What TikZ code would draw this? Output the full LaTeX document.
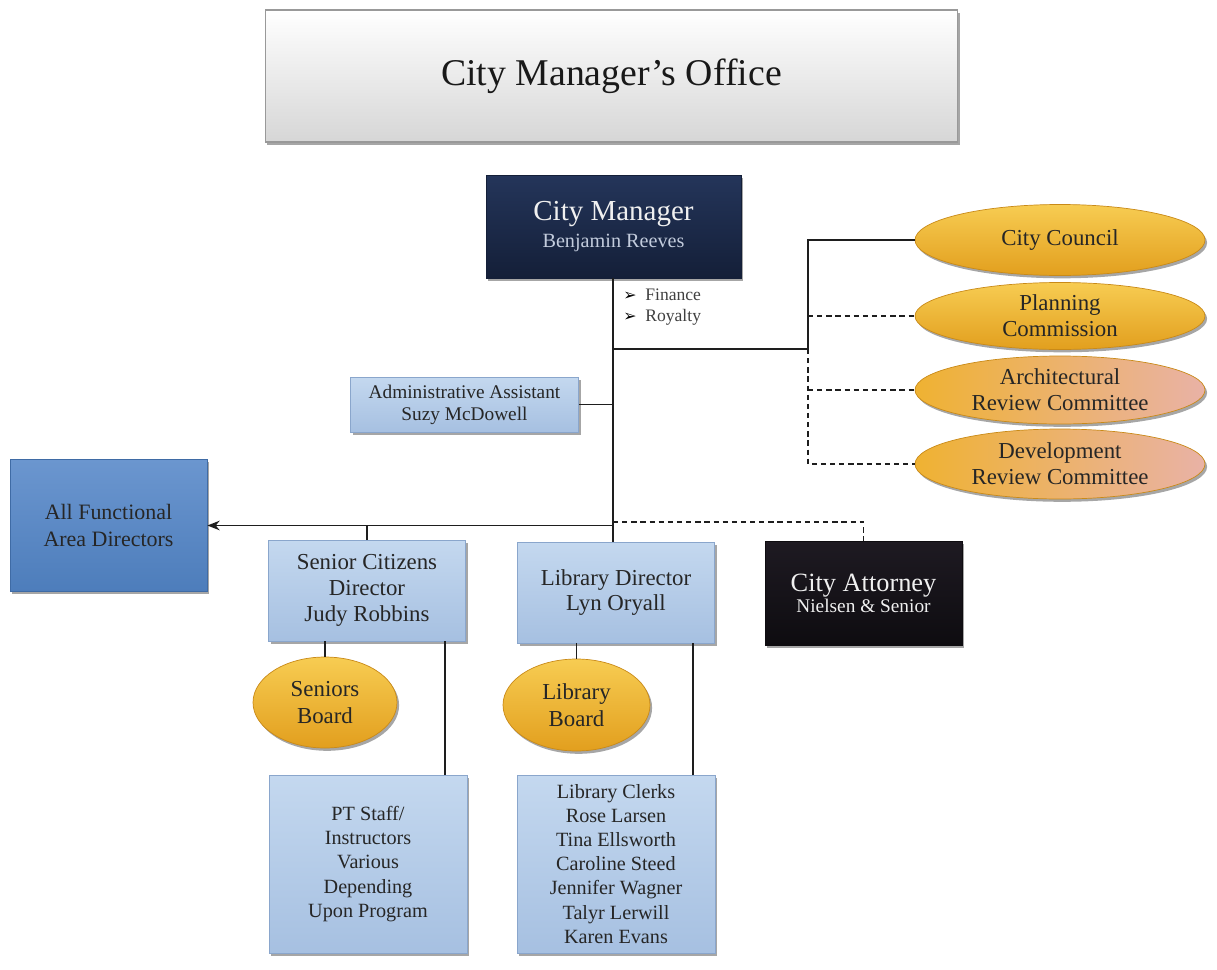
\documentclass[tikz,border=0pt]{standalone}
\usepackage{fontspec}
\setmainfont{Liberation Serif}
\newfontfamily\dejavu{DejaVu Sans}
\usetikzlibrary{shapes.geometric,shadows,arrows.meta}
\definecolor{navytop}{HTML}{24355A}
\definecolor{navybot}{HTML}{141F38}
\definecolor{blacktop}{HTML}{1E1A22}
\definecolor{blackbot}{HTML}{0E0C10}
\definecolor{lbtop}{HTML}{C4D8EF}
\definecolor{lbbot}{HTML}{A6C0E1}
\definecolor{lbdraw}{HTML}{8AA6CC}
\definecolor{mbtop}{HTML}{6B96CF}
\definecolor{mbbot}{HTML}{4D7DBB}
\definecolor{mbdraw}{HTML}{3F6BA5}
\definecolor{ortop}{HTML}{F7CC52}
\definecolor{orbot}{HTML}{E29F1E}
\definecolor{orleft}{HTML}{EFB232}
\definecolor{ordraw}{HTML}{C98A18}
\definecolor{orpink}{HTML}{E9B2A6}
\definecolor{txt}{HTML}{262626}
\definecolor{linec}{HTML}{1E1E1E}
\definecolor{cmsub}{HTML}{C3CCDD}
\tikzset{
  conn/.style={line width=0.8pt, draw=linec},
  dconn/.style={conn, dash pattern=on 3pt off 2.2pt},
  shad/.style={drop shadow={shadow xshift=1.2pt, shadow yshift=-1.6pt, opacity=0.35, fill=black}},
  basebox/.style={rectangle, shad, align=center, inner sep=2pt},
  lbox/.style={basebox, top color=lbtop, bottom color=lbbot, draw=lbdraw, line width=0.5pt, text=txt},
  oval/.style={ellipse, shad, top color=ortop, bottom color=orbot, draw=ordraw, line width=0.4pt, text=txt, align=center, inner sep=0pt},
  ovalpink/.style={ellipse, shad, left color=orleft, right color=orpink, draw=ordraw, line width=0.4pt, text=txt, align=center, inner sep=0pt},
  f13/.style={font=\fontsize{13}{14.7}\selectfont},
  f115/.style={font=\fontsize{11.5}{13.7}\selectfont},
}
\begin{document}
\begin{tikzpicture}[x=0.02cm,y=-0.02cm]
\useasboundingbox[fill=white] (0,0) rectangle (1217,970);

% title
\node[basebox, top color=white, bottom color=black!16, middle color=white!92!black, draw=black!40, line width=0.6pt,
      minimum width=13.86cm, minimum height=2.64cm, text=black!90,
      font=\fontsize{21.5}{24}\selectfont] (title) at (611.5,76) {City Manager’s Office};

% city manager
\node[basebox, top color=navytop, bottom color=navybot, draw=navybot, minimum width=5.1cm, minimum height=2.06cm, text=white!94!black]
  (cm) at (613.5,226.5) {{\fontsize{16.5}{19}\selectfont City Manager}\\[3pt]{\fontsize{11.5}{14}\selectfont\color{cmsub}Benjamin Reeves}};

\node[anchor=west, align=left, text=black!75, font=\fontsize{10}{12}\selectfont, inner sep=0pt]
  (bul) at (623,307.5) {{\dejavu\color{black}\fontsize{9}{12}\selectfont ➢}\hspace{5pt}Finance\\{\dejavu\color{black}\fontsize{9}{12}\selectfont ➢}\hspace{5pt}Royalty};

% right ovals
\node[oval, f13, minimum width=5.8cm, minimum height=1.42cm] (cc) at (1060,240) {City Council};
\node[oval, f13, minimum width=5.8cm, minimum height=1.34cm] (pc) at (1060,316) {Planning\\Commission};
\node[ovalpink, f13, minimum width=5.8cm, minimum height=1.36cm] (ar) at (1060,390) {Architectural\\Review Committee};
\node[ovalpink, f13, minimum width=5.8cm, minimum height=1.4cm] (dc) at (1060,464) {Development\\Review Committee};

% admin assistant
\node[lbox, minimum width=4.56cm, minimum height=1.1cm, font=\fontsize{11}{12.5}\selectfont] (aa) at (464.5,404.5)
  {Administrative Assistant\\Suzy McDowell};

% all functional area directors
\node[basebox, top color=mbtop, bottom color=mbbot, draw=mbdraw, line width=0.5pt, text=txt,
      minimum width=3.94cm, minimum height=2.64cm, font=\fontsize{12.5}{15.8}\selectfont] (afad) at (108.5,525.5)
  {All Functional\\Area Directors};

% directors
\node[lbox, f13, minimum width=3.94cm, minimum height=2.02cm] (sc) at (367,590.5)
  {Senior Citizens\\Director\\Judy Robbins};
\node[lbox, f13, minimum width=3.94cm, minimum height=2.02cm] (ld) at (616,592.5)
  {Library Director\\Lyn Oryall};
\node[basebox, top color=blacktop, bottom color=blackbot, draw=blackbot, text=white!94!black,
      minimum width=3.94cm, minimum height=2.08cm] (ca) at (863.5,593)
  {{\fontsize{15}{17}\selectfont City Attorney}\\{\fontsize{11}{13}\selectfont Nielsen \& Senior}};

% boards
\node[oval, minimum width=2.88cm, minimum height=1.82cm, font=\fontsize{13}{15.5}\selectfont] (sb) at (325,702.5) {Seniors\\Board};
\node[oval, minimum width=2.94cm, minimum height=1.84cm, font=\fontsize{13}{15.5}\selectfont] (lb) at (576.5,705) {Library\\Board};

% staff
\node[lbox, f115, minimum width=3.96cm, minimum height=3.56cm] (pt) at (368,864)
  {PT Staff/\\Instructors\\Various\\Depending\\Upon Program};
\node[lbox, f115, minimum width=3.96cm, minimum height=3.56cm] (lc) at (616,864)
  {Library Clerks\\Rose Larsen\\Tina Ellsworth\\Caroline Steed\\Jennifer Wagner\\Talyr Lerwill\\Karen Evans};

% junctions
\coordinate (jh) at (613,349);
\coordinate (jr) at (808,349);
\coordinate (jm) at (613,525.5);
\coordinate (jd) at (613,522);
\coordinate (xs) at (445,0);
\coordinate (xl) at (693,0);

% connectors
\draw[conn] (jh |- cm.south) -- (jh |- ld.north);
\draw[conn] (jh) -- (jr) |- (cc.west);
\draw[dconn] (jr) -- (jr |- dc.west) -- (dc.west);
\draw[dconn] (jr |- pc.west) -- (pc.west);
\draw[dconn] (jr |- ar.west) -- (ar.west);
\draw[conn] (aa.east) -- (aa.east -| jh);
\draw[conn, -{Stealth[length=7pt,width=5.5pt]}] (jm) -- (afad.east);
\draw[conn] (sc.north |- jm) -- (sc.north);
\draw[dconn] (jd) -| (ca.north);
\draw[conn] (sb.north |- sc.south) -- (sb.north);
\draw[conn] (sc.south -| xs) -- (pt.north -| xs);
\draw[conn] (lb.north |- ld.south) -- (lb.north);
\draw[conn] (ld.south -| xl) -- (lc.north -| xl);
\end{tikzpicture}
\end{document}
